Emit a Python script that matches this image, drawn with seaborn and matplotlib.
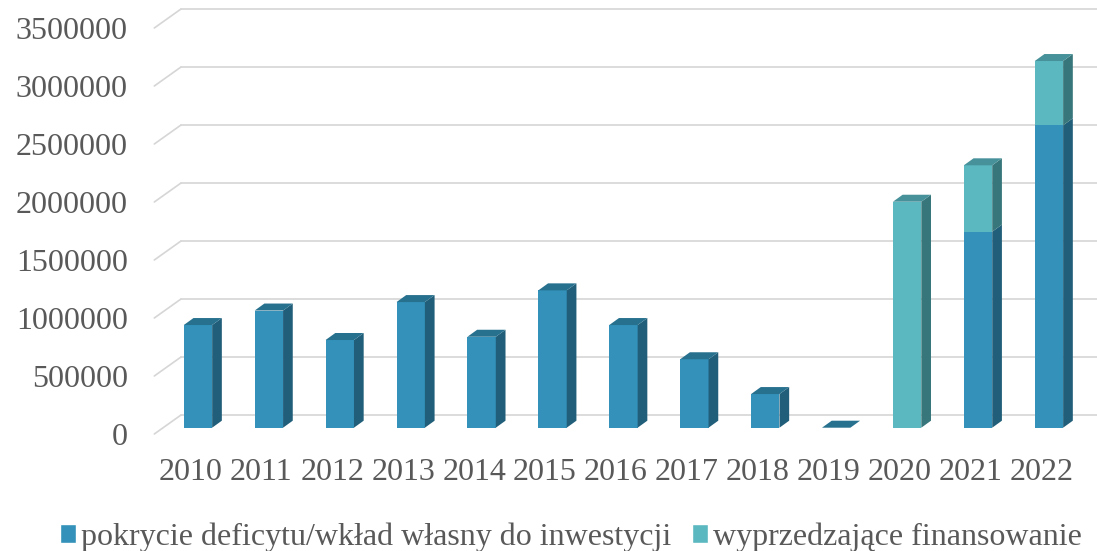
import numpy as np
import matplotlib
matplotlib.use("Agg")
import matplotlib.pyplot as plt
from matplotlib.patches import Polygon, Patch
from matplotlib.transforms import ScaledTranslation
import seaborn as sns

# dane
years = ["2010", "2011", "2012", "2013", "2014", "2015", "2016",
         "2017", "2018", "2019", "2020", "2021", "2022"]
pokrycie = [885000, 1010000, 756000, 1083000, 784000, 1184000, 885000,
            590000, 290000, 0, 0, 1690000, 2607000]
wyprzedzajace = [0, 0, 0, 0, 0, 0, 0, 0, 0, 0, 1948000, 572000, 554000]
labels = ["pokrycie deficytu/wkład własny do inwestycji", "wyprzedzające finansowanie"]
yticks = [0, 500000, 1000000, 1500000, 2000000, 2500000, 3000000, 3500000]

blue = "#3391BA"
blue_side = "#215E79"
blue_top = "#27718F"
teal = "#5BB7C0"
teal_side = "#37767B"
teal_top = "#47929A"
txt = "#595959"

sns.set_style("white")
plt.rcParams["font.family"] = ["Liberation Serif", "DejaVu Serif"]

W, H = 1097, 551
fig = plt.figure(figsize=(W / 100, H / 100), dpi=100)
# os w plaszczyznie przednich scian slupkow
L, R, B, T = 162.5, 1084.4, 427.7, 21.7
ax = fig.add_axes([L / W, 1 - B / H, (R - L) / W, (B - T) / H])

totals = [a + b for a, b in zip(pokrycie, wyprzedzajace)]
sns.barplot(x=years, y=totals, color=teal, width=0.4, saturation=1, linewidth=0, ax=ax)
sns.barplot(x=years, y=pokrycie, color=blue, width=0.4, saturation=1, linewidth=0, ax=ax)
ax.set_xlim(-0.5, 12.5)
ax.set_ylim(0, 3500000)

# piksele na jednostke
px_x = (R - L) / 13
px_y = (B - T) / 3500000

# efekt 3D slupkow
dx = 9.7 / px_x
dy = 7.0 / px_y
front = ax.patches[:13]
for i, p in enumerate(front):
    xl = p.get_x()
    xr = xl + p.get_width()
    a, b = pokrycie[i], totals[i]
    segs = [(0, a, blue_side), (a, b, teal_side)]
    for y0, y1, c in segs:
        if y1 > y0:
            ax.add_patch(Polygon([(xr, y0), (xr + dx, y0 + dy), (xr + dx, y1 + dy), (xr, y1)],
                                 closed=True, facecolor=c, edgecolor="none", zorder=3))
    topc = teal_top if wyprzedzajace[i] > 0 else blue_top
    ax.add_patch(Polygon([(xl, b), (xl + dx, b + dy), (xr + dx, b + dy), (xr, b)],
                         closed=True, facecolor=topc, edgecolor="none", zorder=3))

# tylna sciana - linie siatki
back_dy = 12.7 / px_y
x_back0 = -0.5 + 18.5 / px_x
x_back1 = -0.5 + (W - L) / px_x
x_front0 = -0.5 - 8.2 / px_x
front_dy = 6.3 / px_y
for t in yticks:
    ax.plot([x_back0, x_back1], [t + back_dy, t + back_dy], color="#D6D6D6",
            lw=1.2, zorder=0.5, clip_on=False)
    ax.plot([x_front0, x_back0], [t - front_dy, t + back_dy], color="#D6D6D6",
            lw=1.2, zorder=0.5, clip_on=False)

ax.set_yticks(yticks)
ax.set_yticklabels([str(t) for t in yticks])
ax.tick_params(axis="y", length=0, pad=25, labelsize=23, labelcolor=txt)
ax.tick_params(axis="x", length=0, pad=22, labelsize=23, labelcolor=txt)
for lbl in ax.get_yticklabels():
    lbl.set_transform(lbl.get_transform() + ScaledTranslation(0, -0.063, fig.dpi_scale_trans))
for lbl in ax.get_xticklabels():
    lbl.set_transform(lbl.get_transform() + ScaledTranslation(-0.075, 0, fig.dpi_scale_trans))
ax.set_xlabel("")
ax.set_ylabel("")
sns.despine(ax=ax, left=True, bottom=True)

handles = [Patch(facecolor=blue), Patch(facecolor=teal)]
fig.legend(handles, labels, loc="center", bbox_to_anchor=(571 / W, 1 - 537 / H), ncol=2,
           frameon=False, fontsize=23, labelcolor=txt, handlelength=0.5, handleheight=0.5,
           handletextpad=0.15, columnspacing=0.65, borderpad=0)

fig.savefig("out.png", dpi=100)
